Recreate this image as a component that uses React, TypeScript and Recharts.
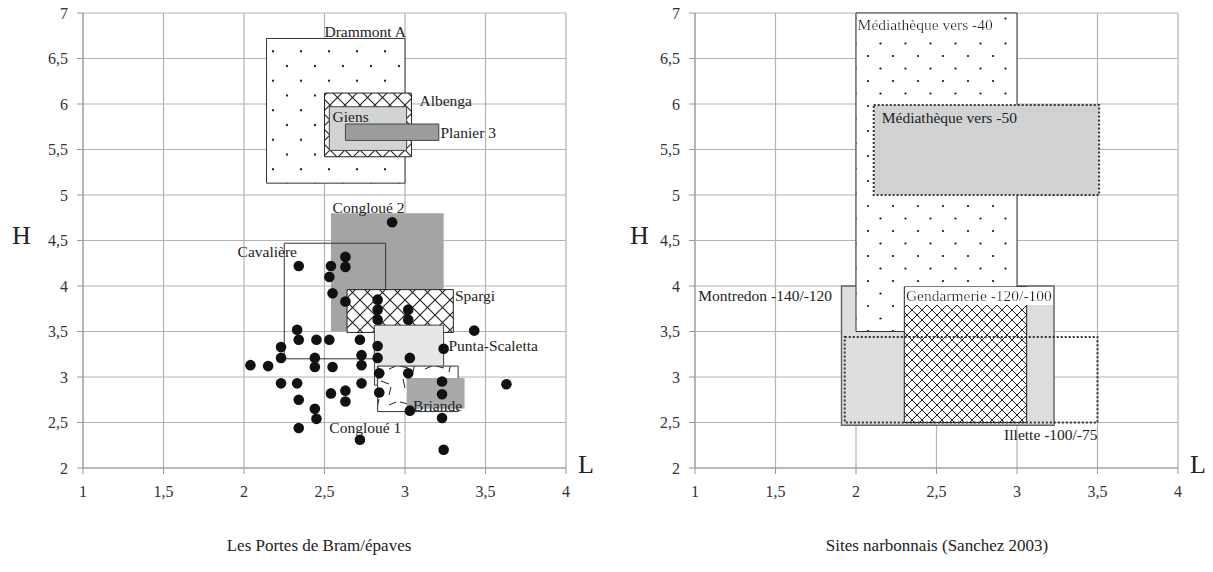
import React from "react";
import {
  ScatterChart,
  Scatter,
  XAxis,
  YAxis,
  CartesianGrid,
  ReferenceArea,
  ReferenceDot,
} from "recharts";

const FONT = "'Liberation Serif', 'DejaVu Serif', serif";

const xTicks = [1, 1.5, 2, 2.5, 3, 3.5, 4];
const yTicks = [2, 2.5, 3, 3.5, 4, 4.5, 5, 5.5, 6, 6.5, 7];

// Les Portes de Bram / épaves : rectangles (L min/max, H min/max)
const bramBoxes = [
  { name: "Drammont A", x1: 2.14, x2: 3.0, y1: 5.13, y2: 6.72 },
  { name: "Albenga", x1: 2.5, x2: 3.04, y1: 5.42, y2: 6.12 },
  { name: "Giens", x1: 2.53, x2: 3.01, y1: 5.49, y2: 5.97 },
  { name: "Planier 3", x1: 2.63, x2: 3.21, y1: 5.6, y2: 5.78 },
  { name: "Congloué 2", x1: 2.54, x2: 3.24, y1: 3.5, y2: 4.8 },
  { name: "Cavalière", x1: 2.25, x2: 2.88, y1: 3.2, y2: 4.47 },
  { name: "Spargi", x1: 2.64, x2: 3.3, y1: 3.49, y2: 3.96 },
  { name: "Punta-Scaletta", x1: 2.81, x2: 3.24, y1: 2.91, y2: 3.57 },
  { name: "Congloué 1", x1: 2.83, x2: 3.33, y1: 2.62, y2: 3.12 },
  { name: "Briande", x1: 3.01, x2: 3.37, y1: 2.65, y2: 2.99 },
];

const bramLabels = [
  { text: "Drammont A", x: 2.5, y: 6.8 },
  { text: "Albenga", x: 3.09, y: 6.04 },
  { text: "Giens", x: 2.55, y: 5.86 },
  { text: "Planier 3", x: 3.22, y: 5.69 },
  { text: "Congloué 2", x: 2.55, y: 4.86 },
  { text: "Cavalière", x: 1.96, y: 4.38 },
  { text: "Spargi", x: 3.31, y: 3.89 },
  { text: "Punta-Scaletta", x: 3.27, y: 3.35 },
  { text: "Briande", x: 3.05, y: 2.69 },
  { text: "Congloué 1", x: 2.53, y: 2.44 },
];

// épaves de Bram (L, H)
const bramL = [
  2.92, 2.34, 2.54, 2.63, 2.63, 2.53, 2.55, 2.63, 2.83, 2.83, 2.83, 3.02, 3.02,
  3.43, 2.33, 2.34, 2.45, 2.53, 2.72, 2.23, 2.83, 3.24, 2.23, 2.44, 2.73, 2.83,
  3.03, 2.04, 2.15, 2.44, 2.55, 2.73, 2.84, 3.02, 2.23, 2.33, 2.73, 3.23, 3.63,
  2.54, 2.63, 2.84, 3.23, 2.34, 2.63, 2.44, 3.03, 2.45, 3.23, 2.34, 2.72, 3.24,
];
const bramH = [
  4.7, 4.22, 4.22, 4.32, 4.21, 4.1, 3.92, 3.83, 3.85, 3.74, 3.63, 3.74, 3.63,
  3.51, 3.52, 3.41, 3.41, 3.41, 3.41, 3.33, 3.34, 3.31, 3.21, 3.21, 3.24, 3.21,
  3.21, 3.13, 3.12, 3.11, 3.11, 3.13, 3.04, 3.04, 2.93, 2.93, 2.93, 2.95, 2.92,
  2.82, 2.85, 2.83, 2.81, 2.75, 2.73, 2.65, 2.63, 2.54, 2.55, 2.44, 2.31, 2.2,
];

// Sites narbonnais (Sanchez 2003)
const narboBoxes = [
  { name: "Montredon -140/-120", x1: 1.91, x2: 3.23, y1: 2.47, y2: 4.0 },
  { name: "Médiathèque vers -40", x1: 2.0, x2: 3.0, y1: 3.5, y2: 7.0 },
  { name: "Médiathèque vers -50", x1: 2.11, x2: 3.51, y1: 5.0, y2: 5.99 },
  { name: "Gendarmerie -120/-100", x1: 2.3, x2: 3.06, y1: 2.5, y2: 3.99 },
  { name: "Illette -100/-75", x1: 1.93, x2: 3.5, y1: 2.5, y2: 3.44 },
];

const narboLabels = [
  { text: "Médiathèque vers -40", x: 2.01, y: 6.87 },
  { text: "Médiathèque vers -50", x: 2.16, y: 5.85 },
  { text: "Montredon -140/-120", x: 1.02, y: 3.89 },
  { text: "Gendarmerie -120/-100", x: 2.31, y: 3.89 },
  { text: "Illette -100/-75", x: 2.92, y: 2.37 },
];

type BoxStyle = {
  fill: string;
  stroke?: string;
  strokeWidth?: number;
  dash?: string;
};

const boxStyles: Record<string, BoxStyle> = {
  "Drammont A": { fill: "url(#dotsL)", stroke: "#333" },
  Albenga: { fill: "url(#hatchL)", stroke: "#222" },
  Giens: { fill: "#d2d3d5", stroke: "#444" },
  "Planier 3": { fill: "#9b9c9e", stroke: "#444" },
  "Congloué 2": { fill: "#a3a4a6" },
  Cavalière: { fill: "none", stroke: "#333" },
  Spargi: { fill: "url(#hatchL)", stroke: "#222" },
  "Punta-Scaletta": { fill: "#e6e7e8", stroke: "#444" },
  "Congloué 1": { fill: "url(#dashL)", stroke: "#333" },
  Briande: { fill: "#a8a9ab" },
  "Montredon -140/-120": { fill: "#dcdddf", stroke: "#666", strokeWidth: 1.5 },
  "Médiathèque vers -40": { fill: "url(#dotsR)", stroke: "#333" },
  "Médiathèque vers -50": { fill: "#d1d2d4", stroke: "#333", strokeWidth: 2, dash: "2 2" },
  "Gendarmerie -120/-100": { fill: "url(#hatchR)", stroke: "#222" },
  "Illette -100/-75": { fill: "none", stroke: "#333", strokeWidth: 2, dash: "2 2" },
};

const whiteBgLabels = ["Médiathèque vers -40", "Gendarmerie -120/-100"];

const bramPoints = bramL.map((l, i) => ({ l, h: bramH[i] }));

const fmt = (v: number) => String(v).replace(".", ",");

function Patterns() {
  return (
    <defs>
      <pattern id="dotsL" width="28" height="29.5" patternUnits="userSpaceOnUse">
        <rect width="28" height="29.5" fill="#fff" />
        <circle cx="7" cy="7" r="1.2" fill="#111" />
        <circle cx="21" cy="21.75" r="1.2" fill="#111" />
      </pattern>
      <pattern id="dotsR" width="25" height="25" patternUnits="userSpaceOnUse">
        <rect width="25" height="25" fill="#fff" />
        <circle cx="6" cy="6" r="1.1" fill="#111" />
        <circle cx="18.5" cy="18.5" r="1.1" fill="#111" />
      </pattern>
      <pattern id="hatchL" width="15" height="15" patternUnits="userSpaceOnUse">
        <rect width="15" height="15" fill="#fff" />
        <path d="M-1,-1 L16,16 M16,-1 L-1,16" stroke="#222" strokeWidth="1.1" />
      </pattern>
      <pattern id="hatchR" width="10" height="10" patternUnits="userSpaceOnUse">
        <rect width="10" height="10" fill="#fff" />
        <path d="M-1,-1 L11,11 M11,-1 L-1,11" stroke="#222" strokeWidth="1" />
      </pattern>
      <pattern id="dashL" width="36" height="36" patternUnits="userSpaceOnUse">
        <rect width="36" height="36" fill="#fff" />
        <path
          d="M4,6 l8,2 M19,3 l-2,9 M29,9 l7,-3 M7,19 l2,9 M21,21 l8,3 M31,27 l-2,8 M12,33 l8,-1"
          stroke="#222"
          strokeWidth="1"
        />
      </pattern>
      <filter id="whiteBg" x="0" y="0" width="1" height="1">
        <feFlood floodColor="#fff" />
        <feComposite in="SourceGraphic" />
      </filter>
    </defs>
  );
}

const tickStyle = { fontFamily: FONT, fontSize: 16, fill: "#333" };

type PanelProps = {
  left: number;
  boxes: typeof bramBoxes;
  labels: typeof bramLabels;
  points: { l: number; h: number }[];
};

function Panel({ left, boxes, labels, points }: PanelProps) {
  return (
    <div style={{ position: "absolute", left, top: 0 }}>
      <ScatterChart
        width={600}
        height={520}
        margin={{ top: 13, right: 34, bottom: 22, left: 43 }}
      >
        <Patterns />
        <CartesianGrid stroke="#b3b3b3" strokeWidth={1.2} />
        <XAxis
          type="number"
          dataKey="l"
          domain={[1, 4]}
          ticks={xTicks}
          allowDataOverflow
          tickFormatter={fmt}
          tick={tickStyle}
          stroke="#999"
          tickSize={6}
          tickMargin={12}
          height={30}
        />
        <YAxis
          type="number"
          dataKey="h"
          domain={[2, 7]}
          ticks={yTicks}
          allowDataOverflow
          tickFormatter={fmt}
          tick={tickStyle}
          stroke="#999"
          tickSize={6}
          tickMargin={9}
          width={40}
        />
        {boxes.map((b) => {
          const s = boxStyles[b.name];
          return (
            <ReferenceArea
              key={b.name}
              x1={b.x1}
              x2={b.x2}
              y1={b.y1}
              y2={b.y2}
              fill={s.fill}
              fillOpacity={1}
              stroke={s.stroke ?? "none"}
              strokeWidth={s.strokeWidth ?? 1}
              strokeDasharray={s.dash}
              ifOverflow="visible"
            />
          );
        })}
        <Scatter
          data={points}
          isAnimationActive={false}
          shape={(p: any) => <circle cx={p.cx} cy={p.cy} r={5.3} fill="#111" />}
        />
        {labels.map((t) => (
          <ReferenceDot
            key={t.text}
            x={t.x}
            y={t.y}
            r={0}
            ifOverflow="visible"
            shape={(p: any) => (
              <text
                x={p.cx}
                y={p.cy}
                dy="0.35em"
                fontFamily={FONT}
                fontSize={15.5}
                fill="#222"
                filter={whiteBgLabels.includes(t.text) ? "url(#whiteBg)" : undefined}
              >
                {t.text}
              </text>
            )}
          />
        ))}
      </ScatterChart>
    </div>
  );
}

export default function App() {
  return (
    <div
      style={{
        position: "absolute",
        left: 0,
        top: 0,
        width: 1213,
        height: 572,
        background: "#fff",
        overflow: "hidden",
      }}
    >
      <Panel left={0} boxes={bramBoxes} labels={bramLabels} points={bramPoints} />
      <Panel left={612} boxes={narboBoxes} labels={narboLabels} points={[]} />
      <svg
        width={1213}
        height={572}
        style={{ position: "absolute", left: 0, top: 0, pointerEvents: "none" }}
        fontFamily={FONT}
        fill="#222"
      >
        <text x={12} y={244} fontSize={26}>H</text>
        <text x={630} y={244} fontSize={26}>H</text>
        <text x={578} y={473} fontSize={26}>L</text>
        <text x={1190} y={473} fontSize={26}>L</text>
        <text x={319} y={551} fontSize={17} textAnchor="middle">
          Les Portes de Bram/épaves
        </text>
        <text x={937} y={551} fontSize={17} textAnchor="middle">
          Sites narbonnais (Sanchez 2003)
        </text>
      </svg>
    </div>
  );
}
